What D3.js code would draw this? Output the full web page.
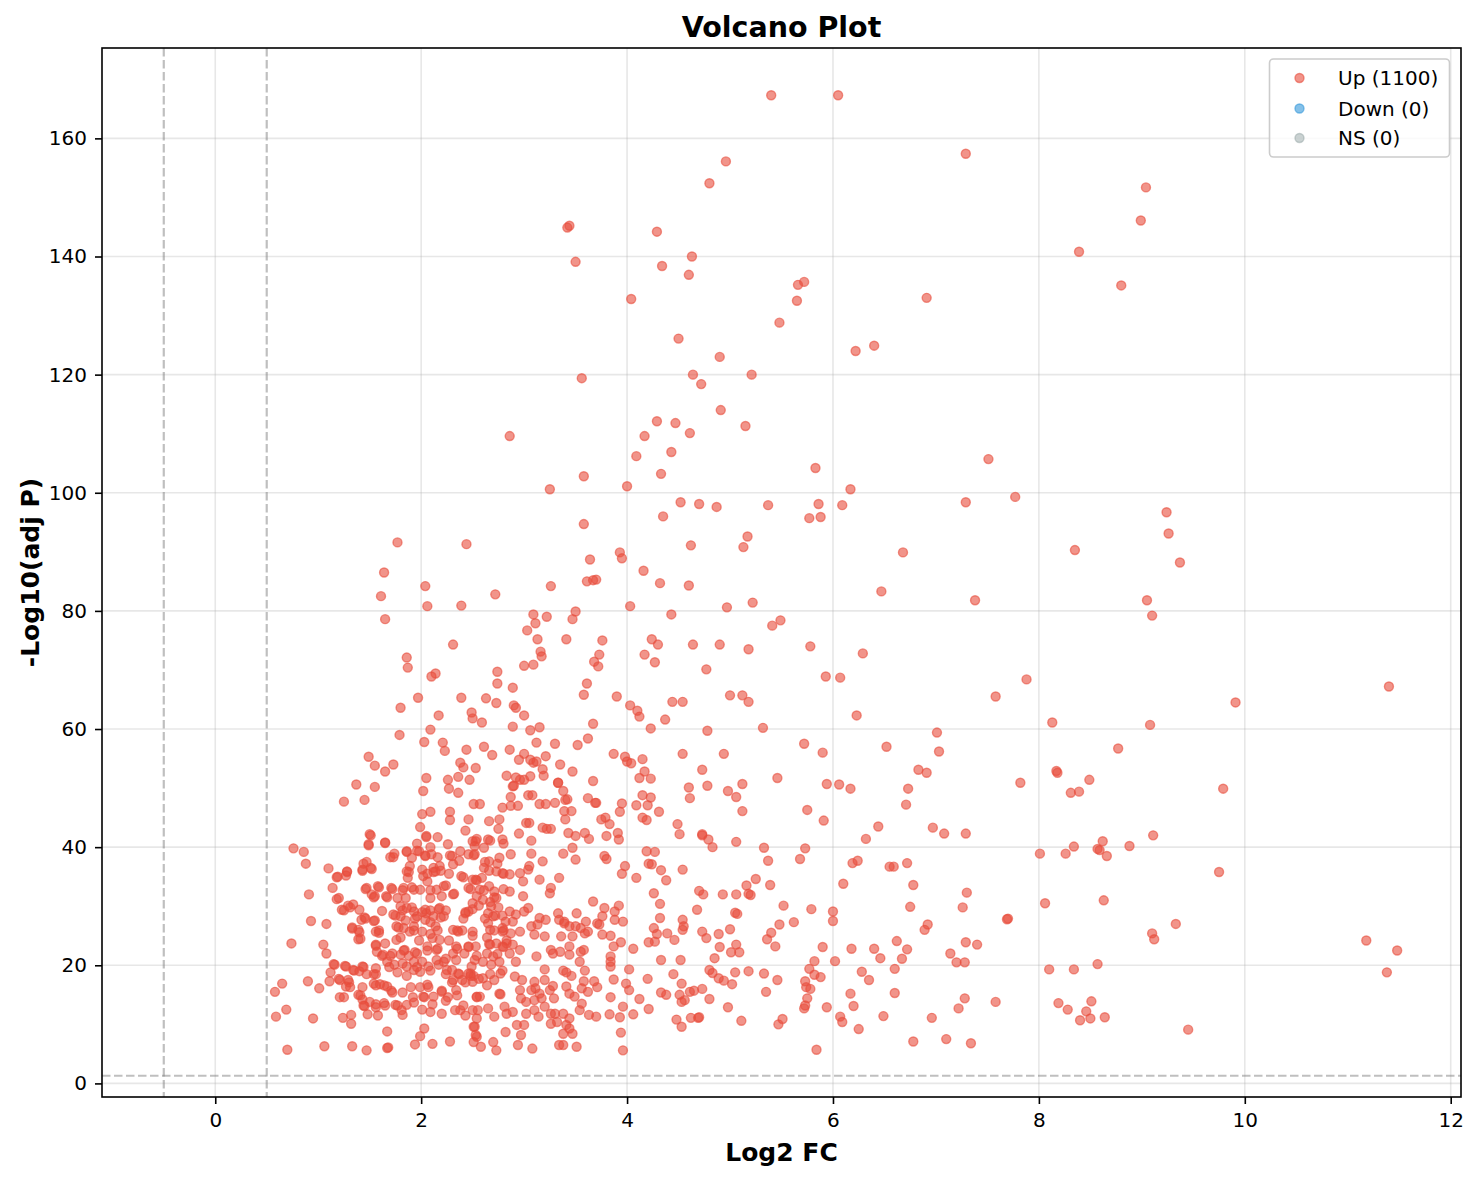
<!DOCTYPE html>
<html><head><meta charset="utf-8">
<script src="https://cdn.jsdelivr.net/npm/d3@7"></script>
<style>
body{margin:0;background:#fff;}
text{font-family:"DejaVu Sans",sans-serif;fill:#000;}
</style></head><body>
<svg id="chart" width="1481" height="1180"></svg>
<script>
// ---- data: [log2 FC, -log10(adj P)] ----
const upPoints = [
[5.40,167.3],[6.05,167.3],[7.29,157.4],[4.96,156.1],[4.80,152.4],[9.04,151.7],[8.99,146.1],[3.44,145.2],[3.42,144.9],[4.29,144.2],[8.39,140.8],[4.63,140.0],[3.50,139.1],[4.34,138.4],[4.60,136.9],[5.72,135.7],[5.66,135.2],[8.80,135.1],[4.04,132.8],[6.91,133.0],[5.65,132.5],[5.48,128.8],[4.50,126.1],[6.40,124.9],[6.22,124.0],[4.90,123.0],[4.64,120.0],[5.21,120.0],[3.56,119.4],[4.72,118.4],[4.91,114.0],[4.29,112.1],[4.47,111.8],[5.15,111.3],[2.86,109.6],[4.17,109.6],[4.61,110.1],[4.43,106.9],[4.09,106.2],[7.51,105.7],[5.83,104.2],[3.58,102.8],[4.33,103.2],[4.00,101.1],[3.25,100.6],[6.17,100.6],[7.77,99.3],[4.52,98.4],[7.29,98.4],[5.37,97.9],[4.70,98.1],[4.87,97.6],[5.86,98.1],[6.09,97.9],[9.24,96.7],[5.77,95.7],[5.88,95.9],[4.35,96.0],[3.58,94.7],[9.26,93.1],[5.17,92.6],[1.77,91.6],[2.44,91.3],[4.62,91.1],[5.13,90.8],[6.68,89.9],[8.35,90.3],[3.93,89.9],[3.64,88.7],[3.95,88.9],[9.37,88.2],
[1.64,86.5],[4.16,86.8],[3.70,85.3],[3.67,85.2],[3.61,85.0],[3.26,84.2],[2.04,84.2],[4.60,84.3],[4.32,84.7],[6.47,83.3],[2.72,82.8],[1.61,82.5],[9.05,81.8],[7.38,81.8],[5.22,81.4],[2.39,80.9],[2.06,80.8],[4.03,80.8],[4.97,80.6],[3.50,79.9],[3.09,79.4],[4.43,79.4],[9.10,79.2],[1.65,78.6],[5.49,78.4],[3.47,78.6],[5.41,77.5],[3.11,77.9],[3.03,76.7],[3.76,75.0],[4.24,75.2],[3.41,75.2],[3.13,75.2],[4.90,74.3],[2.31,74.3],[4.64,74.3],[4.30,74.3],[5.78,74.0],[5.18,73.5],[3.16,73.1],[3.73,72.6],[4.17,72.6],[6.29,72.8],[3.17,72.3],[1.86,72.1],[3.68,71.4],[3.09,70.9],[4.27,71.3],[3.00,70.7],[1.87,70.4],[3.72,70.6],[4.77,70.1],[2.74,69.7],[2.14,69.4],[2.10,68.9],[5.93,68.9],[7.88,68.4],[6.07,68.7],[2.74,67.7],[3.61,67.7],[2.89,67.0],[11.40,67.2],[5.00,65.7],[1.97,65.3],[2.39,65.3],[2.63,65.2],[3.90,65.5],[3.58,65.8],[5.12,65.7],[7.58,65.5],[4.44,64.6],[4.54,64.6],[5.18,64.6],[9.91,64.5],[4.03,64.0],[1.80,63.6],[4.10,63.1],[2.49,62.8],[2.50,61.8],[4.12,62.1],[6.23,62.3],[3.00,62.3],[2.17,62.3],[4.37,61.6],[2.59,61.1],[3.67,60.9],[8.13,61.1],[9.08,60.7],[3.15,60.3],[2.89,60.4],[4.23,60.1],[5.32,60.2],[2.09,59.9],[4.78,59.7],[1.79,59.0],[7.01,59.4],[3.62,58.4],[3.30,57.5],[5.72,57.5],[3.12,57.7],[3.52,57.3],[6.52,57.0],[2.61,57.0],[8.77,56.7],[2.23,56.3],[2.21,57.7],[2.44,56.5],[3.87,55.8],[3.98,55.3],[5.90,56.0],[7.03,56.2],[4.94,55.8],[4.54,55.8],[1.49,55.3],[2.69,55.6],[2.95,54.8],[4.00,54.5],[3.09,54.3],[1.55,53.8],[3.12,54.5],[3.35,54.0],[2.53,53.4],[1.73,54.0],[4.73,53.1],[6.83,53.1],[8.17,52.9],[1.65,52.8],[4.17,52.8],[6.91,52.6],[8.18,52.6],[2.36,51.9],[5.46,51.7],[2.05,51.7],[3.19,52.1],[2.83,52.1],[2.96,51.4],[4.23,51.6],[8.49,51.4],[3.67,51.2],[5.94,50.7],[6.06,50.6],[7.82,50.9],[9.79,49.9],[6.17,49.9],[1.37,50.6],[5.12,50.7],[4.60,50.1],[6.73,49.9],[8.31,49.2],[8.39,49.4],[4.98,49.5],[2.02,49.5],[5.06,48.5],[2.87,48.5],[1.45,48.0],[1.25,47.7],[3.70,47.5],[3.40,48.0],[6.71,47.2],[5.75,46.3],[5.12,46.1],[3.46,46.1],
[2.73,64.4],[2.90,64.0],[2.92,63.6],[3.06,59.8],[2.86,56.5],[3.00,55.8],[3.22,79.0],[4.04,54.2],[4.15,54.9],[4.12,51.7],[3.47,52.8],[3.06,54.8],[3.18,53.2],[2.92,51.8],[3.00,51.4],[3.06,52.0],[2.89,50.3],[3.33,50.9],[3.21,55.4],[2.03,57.8],[2.26,51.4],[2.38,54.3],[2.41,53.5],[2.47,51.4],[1.55,50.2],
[2.01,45.6],[2.09,46.0],[2.28,46.0],[2.28,44.6],[2.36,49.2],[2.27,49.9],[1.99,43.4],[2.05,41.9],[1.50,42.2],[1.49,40.5],[1.65,40.8],[0.76,39.8],[0.86,39.2],[0.88,37.2],[1.10,36.4],[1.19,35.0],[1.28,35.9],[1.27,35.2],[1.43,36.2],[1.47,37.5],[1.51,36.5],[1.70,38.3],[1.74,38.9],[1.86,39.3],[1.96,40.6],[1.14,33.1],[1.20,31.4],[0.91,32.0],[1.23,29.4],[1.29,30.1],[1.34,30.3],[1.40,29.4],[1.47,33.1],[1.52,32.0],[1.55,31.7],[1.58,33.4],[1.66,31.7],[1.71,33.1],[1.62,29.2],[0.93,27.5],[1.08,27.0],[1.33,26.4],[1.39,26.0],[1.42,27.7],[1.45,28.1],[1.54,27.5],[1.39,24.4],[1.56,25.7],[1.59,25.5],[0.74,23.7],[1.05,23.5],[1.08,22.0],[1.56,23.5],[1.57,22.3],[1.65,23.7],[1.63,21.8],[1.16,20.1],[1.12,18.8],[1.26,19.9],[1.34,19.2],[1.40,19.0],[1.43,19.8],[1.47,18.5],[1.56,19.5],[1.56,18.5],[1.21,17.5],[1.29,17.5],[1.27,16.4],[1.11,17.3],[1.01,16.1],[0.90,17.3],[0.65,16.9],[0.58,15.5],[1.21,14.6],[1.39,15.0],[1.43,14.2],[1.45,13.1],[1.50,13.8],[1.56,12.9],[1.48,11.7],[1.58,11.5],[1.24,11.1],[1.32,11.6],[1.32,10.1],[1.64,13.6],[1.54,16.9],[1.60,16.8],[1.67,16.4],[1.71,15.7],[1.75,13.3],[1.81,12.4],[1.82,11.6],[1.86,13.3],[1.92,14.6],[2.01,12.5],[2.09,12.1],[2.20,11.8],[2.02,14.7],[2.12,14.7],[2.20,15.5],[2.26,14.6],[2.06,16.7],[1.99,18.9],[2.07,19.8],[2.17,20.1],[2.25,19.2],[2.30,19.2],[0.69,12.5],[0.59,11.3],[0.95,11.0],[0.70,5.7],[1.06,6.3],[1.33,6.3],[1.47,5.6],[1.67,6.0],[1.68,6.1],[1.67,8.8],[2.03,9.3],[1.99,8.0],[1.94,6.6],[2.11,6.7],[2.28,7.1],[2.38,12.4],[2.43,11.5],[2.33,12.4],
[2.04,29.4],[2.05,28.8],[1.93,29.1],[1.96,28.3],[1.86,29.7],[1.80,28.3],[1.76,26.6],[1.83,26.3],[1.89,25.7],[1.93,26.6],[2.01,25.7],[2.04,27.7],[2.12,28.3],[2.18,29.7],[2.22,28.3],[2.14,26.6],[2.11,24.6],[2.06,23.2],[2.15,22.6],[2.18,24.3],[1.76,24.3],[1.84,22.6],[1.80,21.8],[1.72,22.0],[1.67,20.6],[1.74,20.1],[1.82,20.3],[1.86,19.8],[1.93,20.6],[1.96,22.0],[1.93,19.2],[2.01,20.6],[2.15,20.9],[2.22,20.6],[2.31,22.0],[2.34,23.2],[2.34,20.9],[2.42,22.0],[2.46,23.2],[2.52,20.9],[2.49,19.8],[2.36,18.6],[2.46,18.6],[2.31,17.5],[2.40,17.5],[2.50,17.2],[2.34,15.8],[2.54,14.7],[2.50,12.4],[2.54,11.0],[2.52,9.6],[2.54,7.9],[2.31,26.0],[2.36,25.7],[2.50,25.7],[2.46,29.1],[2.43,28.8],[2.50,30.5],[2.54,31.7],[2.46,33.1],[2.50,34.5],[2.39,35.1],[2.31,37.1],[2.30,38.5],[2.38,39.3],[2.46,38.8],[2.50,41.0],[2.46,44.7],[2.51,47.3],[2.10,38.8],[2.12,36.5],[2.18,36.8],[2.14,35.9],[2.02,35.1],[2.01,36.2],[1.89,36.8],[1.86,35.9],[1.87,34.8],[1.83,33.1],[1.93,32.8],[1.99,32.8],[2.06,34.2],[2.15,32.8],[2.22,33.4],[2.31,32.0],[2.20,31.7],[2.09,31.4],[1.85,31.4],[1.77,31.4],[1.73,28.6],[1.80,30.0],[1.91,38.2],[1.98,39.3],[2.04,38.5],
[2.90,50.4],[3.33,50.9],[3.04,48.8],[3.08,48.8],[2.79,46.7],[2.87,47.0],[2.94,47.0],[2.57,47.3],[3.15,47.3],[3.21,47.3],[3.30,47.5],[3.42,48.1],[3.38,49.5],[3.62,48.3],[3.69,47.5],[3.95,47.4],[4.09,47.1],[4.20,47.1],[4.23,48.4],[4.15,48.8],[4.31,46.0],[4.61,48.3],[4.49,43.9],[4.51,42.2],[4.73,42.2],[4.15,45.0],[4.19,44.6],[3.93,46.0],[3.79,45.0],[3.75,44.7],[3.83,43.9],[3.91,42.4],[3.92,41.3],[3.80,41.9],[3.59,42.4],[3.63,41.4],[3.43,42.4],[3.50,41.9],[3.40,44.7],[3.39,46.1],[3.22,43.1],[3.26,43.1],[3.18,43.3],[3.02,44.1],[3.05,44.1],[2.95,42.3],[3.07,41.1],[2.76,44.7],[2.75,43.1],[2.66,44.4],[2.65,41.3],[2.79,41.3],[2.53,41.0],[3.07,38.9],[3.18,37.6],[3.38,38.9],[3.47,39.9],[3.50,37.9],[3.78,38.5],[3.80,38.0],[3.98,36.8],[3.95,35.5],[4.09,34.8],[4.19,39.3],[4.27,39.2],[4.24,37.1],[4.21,37.2],[4.33,36.1],[4.38,34.4],[4.54,36.2],[4.74,32.0],[4.70,32.6],[4.68,29.4],[4.26,32.2],[4.32,30.4],[4.32,28.0],[4.26,26.3],[4.29,25.3],[4.39,25.4],[4.46,24.3],[4.54,27.7],[4.55,26.6],[4.54,26.0],[4.73,25.7],[4.77,24.6],[4.27,24.0],[4.21,23.9],[4.06,22.8],[4.33,20.9],[4.52,20.9],[4.45,18.5],[4.53,16.9],[4.33,15.4],[4.38,15.0],[4.51,15.0],[4.61,15.5],[4.65,15.7],[4.73,16.0],[4.80,14.3],[4.56,14.1],[4.53,13.8],[4.20,17.7],[4.12,14.3],[4.21,12.6],[4.02,15.8],[3.99,16.9],[4.02,19.3],[3.87,17.6],[3.84,14.6],[3.96,13.0],[4.06,11.7],[3.93,11.2],[3.83,11.7],[3.94,8.6],[3.96,5.6],[4.48,10.8],[4.53,9.6],[4.62,11.1],[4.69,11.1],[3.84,21.5],[3.84,20.6],[3.84,19.8],[3.94,23.9],[3.87,23.2],[3.84,25.0],[3.76,25.2],[3.73,26.9],[3.76,28.3],[3.78,29.7],[3.88,29.1],[3.92,30.1],[3.96,27.4],[3.88,27.7],[3.67,30.8],[3.71,27.1],[3.60,27.4],[3.55,26.3],[3.59,25.4],[3.50,26.6],[3.44,26.6],[3.39,27.4],[3.34,27.7],[3.33,28.8],[3.21,27.7],[3.15,28.0],[3.07,26.6],[3.13,26.9],[3.10,25.2],[3.04,29.7],[3.00,29.1],[2.92,28.6],[2.86,29.1],[2.89,27.4],[2.96,25.7],[2.87,25.4],[2.82,27.4],[2.79,26.3],[2.79,25.7],[2.99,31.7],[2.86,32.5],[2.71,32.5],[2.73,31.4],[2.66,33.4],[2.57,32.8],[2.60,31.1],[2.53,34.5],[2.68,30.0],[2.65,28.8],[2.70,28.3],[2.65,27.1],[2.67,26.0],[2.79,28.4],[3.26,33.1],[3.25,32.2],[3.34,34.8],[3.15,34.5],[3.04,36.2],[3.05,36.8],[2.96,35.6],[2.86,35.4],[2.79,35.6],[2.73,35.9],[2.61,36.5],[2.66,37.6],[2.59,34.8],[2.52,40.2],[2.61,39.9],[2.52,38.8],[2.76,38.2],[2.87,38.8],[2.99,34.2],[3.51,28.8],[3.39,27.1],[2.73,23.7],[2.67,23.5],[2.64,22.0],[2.79,23.2],[2.83,23.7],[2.89,23.5],[2.96,22.6],[2.86,22.0],[2.92,20.6],[2.76,20.6],[2.70,21.5],[2.68,20.1],[2.60,20.6],[2.53,23.2],[2.48,18.6],[2.60,17.8],[2.71,17.5],[2.77,18.6],[2.51,18.2],[2.91,18.1],[3.12,21.5],[3.26,22.6],[3.28,22.0],[3.35,22.3],[3.44,23.2],[3.55,22.3],[3.58,22.6],[3.44,21.8],[3.54,20.6],[3.62,25.7],[3.20,19.3],[3.38,19.1],[3.41,18.8],[3.46,18.2],[3.59,19.1],[3.58,17.3],[3.68,17.3],[3.71,16.3],[3.47,24.9],[3.36,24.9],[3.20,24.9],[2.98,17.5],[3.10,17.2],[3.20,17.5],[3.28,16.5],[3.41,16.4],[3.25,15.8],[3.11,16.1],[3.07,15.8],[2.96,15.8],[2.97,14.4],[3.02,13.8],[3.15,15.2],[3.17,14.4],[3.20,13.0],[3.30,11.8],[3.32,10.4],[3.38,11.8],[3.41,9.9],[3.44,9.3],[3.47,8.4],[3.38,8.4],[3.34,6.5],[3.38,6.5],[3.51,6.2],[3.14,11.3],[3.10,12.4],[3.02,11.8],[3.00,9.9],[2.97,8.2],[2.93,9.9],[2.89,12.1],[2.83,11.8],[2.81,13.0],[2.76,15.2],[2.71,11.3],[2.65,12.7],[2.57,14.7],[2.55,12.4],[2.51,9.6],[2.53,8.2],[2.51,7.0],[2.58,6.2],[2.70,7.0],[2.73,5.6],[2.82,8.7],[2.94,6.5],[3.08,5.9],[3.26,11.8],[3.44,15.2],[3.49,14.7],[3.56,16.1],[3.62,15.5],[3.63,11.6],[3.70,11.3],[3.56,13.5],[3.54,12.4],[3.44,11.0],[3.29,14.4],[3.26,10.1],[3.10,14.1],
[4.78,50.4],[5.91,44.5],[6.44,43.5],[6.32,41.4],[6.97,43.3],[7.08,42.3],[7.29,42.3],[4.73,42.0],[4.79,41.3],[4.83,40.0],[5.06,40.9],[5.33,39.9],[5.73,39.8],[5.37,37.7],[5.68,38.0],[6.19,37.3],[6.24,37.7],[6.55,36.7],[6.59,36.7],[6.72,37.3],[6.10,33.8],[6.78,33.6],[5.25,34.6],[5.16,33.5],[5.39,33.6],[4.93,32.0],[5.06,32.0],[5.18,32.1],[5.20,31.9],[7.30,32.3],[5.52,30.1],[5.79,29.5],[6.00,29.1],[6.00,27.5],[6.75,29.9],[7.26,29.8],[5.05,28.9],[5.07,28.7],[5.48,26.9],[5.62,27.3],[6.92,26.9],[6.89,26.0],[4.89,25.3],[5.00,26.1],[5.40,25.5],[5.36,24.4],[5.44,23.2],[4.90,23.1],[5.06,23.5],[5.01,22.2],[5.09,22.2],[4.85,21.2],[5.90,23.1],[6.18,22.8],[6.40,22.8],[6.46,21.2],[6.62,24.1],[6.72,22.7],[6.67,21.1],[7.29,23.9],[7.40,23.5],[7.14,22.0],[7.20,20.5],[7.28,20.5],[6.02,20.7],[5.82,20.7],[5.77,19.4],[5.82,18.4],[5.88,18.0],[5.73,17.3],[5.74,16.3],[5.78,16.0],[5.75,14.4],[5.73,13.2],[5.72,12.7],[5.94,12.9],[4.80,19.2],[4.83,18.7],[4.89,17.8],[4.94,17.4],[5.02,16.8],[5.05,18.8],[5.18,19.0],[5.33,18.6],[5.46,17.5],[5.35,15.5],[4.98,12.9],[4.70,11.2],[5.11,10.6],[5.47,10.0],[5.51,10.9],[5.84,5.7],[6.07,11.3],[6.09,10.4],[6.25,9.2],[6.20,13.1],[6.17,15.2],[6.28,18.9],[6.35,17.5],[6.49,11.4],[6.60,19.4],[6.60,15.3],[6.78,7.1],[6.96,11.1],[7.10,7.5],[7.34,6.8],[7.22,12.7],[7.28,14.4],[7.58,13.8],
[9.11,42.0],[8.62,41.0],[8.88,40.2],[8.34,40.1],[8.57,39.7],[8.59,39.5],[8.66,38.5],[8.01,38.9],[8.26,38.9],[9.75,35.8],[8.06,30.5],[8.63,31.0],[7.69,27.8],[7.70,27.9],[9.33,27.0],[9.10,25.4],[9.12,24.4],[11.18,24.2],[11.48,22.5],[11.38,18.8],[8.10,19.3],[8.34,19.3],[8.57,20.2],[8.19,13.6],[8.28,12.5],[8.51,13.9],[8.46,12.2],[8.40,10.7],[8.50,11.0],[8.64,11.2],[9.45,9.1],
[1.51,42.0],[1.49,40.3],[1.65,40.7],[2.05,41.7],[2.16,41.7],[2.26,40.5],[2.09,40.0],[2.43,42.8],[2.54,41.4],[2.67,41.1],[2.80,40.6],[1.86,39.2],[1.73,38.3],[1.96,39.4],[2.04,38.6],[2.16,38.3],[2.28,38.6],[2.37,37.7],[2.51,38.6],[2.62,37.5],[2.74,37.2],[1.44,37.2],[1.28,35.8],[1.18,34.9],[1.43,36.0],[1.52,36.3],[1.88,35.8],[2.06,35.5],[2.12,35.8],[2.19,36.0],[2.27,35.5],[2.41,34.9],[2.54,34.4],[2.66,36.0],[2.80,35.5],[1.18,31.2],[1.46,32.9],[1.59,33.2],[1.72,32.9],[1.82,32.7],[1.91,33.2],[2.09,32.7],[2.24,33.5],[2.32,32.1],[2.48,32.9],[2.61,32.7],[2.71,31.5],[2.80,32.9],[1.67,31.5],[1.54,31.5],[1.25,29.3],[1.31,29.8],[1.75,28.4],[1.82,29.3],[1.91,29.8],[2.01,29.0],[2.09,29.3],[2.17,29.5],[2.24,29.3],[2.43,29.0],[2.50,29.5],[2.56,30.1],[2.67,30.7],[2.75,29.8],[1.46,27.9],[1.55,27.6],[1.85,27.6],[1.94,27.9],[2.09,27.3],[2.19,28.1],[2.41,27.9],[2.62,27.9],[2.72,28.4],[1.33,26.2],[1.40,25.6],[1.41,24.5],[1.59,25.9],[1.78,26.4],[1.80,24.7],[1.93,25.9],[1.98,24.2],[2.09,25.3],[2.16,25.9],[2.27,24.2],[2.35,25.9],[2.40,25.9],[2.50,25.0],[2.64,24.7],[2.71,25.9],[2.80,25.9],[2.83,24.2],[1.56,23.3],[1.62,21.6],[1.70,21.6],[1.83,22.5],[1.88,21.6],[1.94,22.2],[2.06,22.5],[2.16,22.8],[2.24,21.1],[2.35,22.8],[2.46,23.1],[2.54,21.6],[2.66,23.6],[2.74,21.9],[2.80,23.1],[1.15,20.2],[1.27,19.8],[1.35,19.1],[1.44,19.7],[1.54,18.5],[1.69,19.7],[1.77,18.8],[1.86,18.2],[1.96,19.7],[2.09,19.1],[2.24,18.5],[2.37,18.5],[2.48,18.2],[2.56,17.7],[2.67,18.5],[2.79,19.1],[1.20,17.7],[1.30,17.1],[1.31,16.3],[1.43,16.3],[1.56,16.6],[1.64,16.6],[1.72,15.4],[1.82,15.4],[1.90,16.3],[1.99,16.3],[2.07,16.3],[2.20,15.7],[2.30,17.1],[2.43,17.1],[2.64,16.6],[2.77,15.1],[1.25,14.6],[1.41,14.9],[1.44,13.2],[1.56,13.4],[1.65,13.2],[1.77,13.2],[1.93,13.7],[2.03,14.6],[2.11,13.4],[2.24,14.0],[2.35,14.9],[2.41,13.2],[2.54,14.6]
];
const downPoints = [];
const nsPoints = [];
const upCount = 1100, downCount = 0, nsCount = 0;
const legendLabels = ["Up (" + upCount + ")", "Down (" + downCount + ")", "NS (" + nsCount + ")"];
const xTicks = [0, 2, 4, 6, 8, 10, 12];
const yTicks = [0, 20, 40, 60, 80, 100, 120, 140, 160];
const fcCutoffs = [-0.5, 0.5];
const pCutoff = 1.3;
const titleText = "Volcano Plot";
const xLabelText = "Log2 FC";
const yLabelText = "-Log10(adj P)";

// ---- layout ----
const W = 1481, H = 1180;
const L = 102, R = 1461, T = 48, B = 1097;
const colors = {up: "#e74c3c", down: "#3498db", ns: "#95a5a6"};
const MR = 4.5, MSW = 1.4;

const svg = d3.select("#chart");
const x = d3.scaleLinear().domain([-1.1, 12.1]).range([L, R]);
const y = d3.scaleLinear().domain([-2.3, 175.3]).range([B, T]);

// grid
const grid = svg.append("g");
grid.selectAll("line.gx").data(xTicks).join("line")
  .attr("x1", d => x(d)).attr("x2", d => x(d)).attr("y1", T).attr("y2", B)
  .attr("stroke", "#b0b0b0").attr("stroke-opacity", 0.3).attr("stroke-width", 1.6);
grid.selectAll("line.gy").data(yTicks).join("line")
  .attr("y1", d => y(d)).attr("y2", d => y(d)).attr("x1", L).attr("x2", R)
  .attr("stroke", "#b0b0b0").attr("stroke-opacity", 0.3).attr("stroke-width", 1.6);

svg.append("clipPath").attr("id", "clip").append("rect")
  .attr("x", L).attr("y", T).attr("width", R - L).attr("height", B - T);

const plot = svg.append("g").attr("clip-path", "url(#clip)");

function drawSeries(data, color, alpha) {
  plot.append("g").selectAll("circle").data(data).join("circle")
    .attr("cx", d => x(d[0])).attr("cy", d => y(d[1])).attr("r", MR)
    .attr("fill", color).attr("fill-opacity", alpha)
    .attr("stroke", color).attr("stroke-opacity", alpha).attr("stroke-width", MSW);
}
drawSeries(nsPoints, colors.ns, 0.5);
drawSeries(downPoints, colors.down, 0.6);
drawSeries(upPoints, colors.up, 0.6);

// threshold lines
plot.selectAll("line.vc").data(fcCutoffs).join("line")
  .attr("x1", d => x(d)).attr("x2", d => x(d)).attr("y1", T).attr("y2", B)
  .attr("stroke", "#808080").attr("stroke-opacity", 0.5).attr("stroke-width", 2.2)
  .attr("stroke-dasharray", "8.5,3.5");
plot.append("line")
  .attr("x1", L).attr("x2", R).attr("y1", y(pCutoff)).attr("y2", y(pCutoff))
  .attr("stroke", "#808080").attr("stroke-opacity", 0.5).attr("stroke-width", 2.2)
  .attr("stroke-dasharray", "8.5,3.5");

// axes
const xAxis = svg.append("g").attr("transform", `translate(0,${B})`)
  .call(d3.axisBottom(x).tickValues(xTicks).tickSize(7).tickPadding(9).tickFormat(d3.format("d")));
const yAxis = svg.append("g").attr("transform", `translate(${L},0)`)
  .call(d3.axisLeft(y).tickValues(yTicks).tickSize(7).tickPadding(8).tickFormat(d3.format("d")));
[xAxis, yAxis].forEach(g => {
  g.select(".domain").remove();
  g.selectAll(".tick line").attr("stroke", "#000").attr("stroke-width", 1.6);
  g.selectAll(".tick text").attr("font-size", 20).attr("font-family", "DejaVu Sans").attr("fill", "#000");
});

// frame
svg.append("rect").attr("x", L).attr("y", T).attr("width", R - L).attr("height", B - T)
  .attr("fill", "none").attr("stroke", "#000").attr("stroke-width", 1.6);

// titles
svg.append("text").attr("x", (L + R) / 2).attr("y", 37).attr("text-anchor", "middle")
  .attr("font-size", 28.5).attr("font-weight", "bold").text(titleText);
svg.append("text").attr("x", (L + R) / 2).attr("y", 1161).attr("text-anchor", "middle")
  .attr("font-size", 25).attr("font-weight", "bold").text(xLabelText);
svg.append("text").attr("transform", `translate(39,${(T + B) / 2}) rotate(-90)`).attr("text-anchor", "middle")
  .attr("font-size", 25).attr("font-weight", "bold").text(yLabelText);

// legend
const legend = svg.append("g");
legend.append("rect").attr("x", 1269.5).attr("y", 59).attr("width", 180).attr("height", 98)
  .attr("rx", 4).attr("fill", "#fff").attr("fill-opacity", 0.8)
  .attr("stroke", "#cccccc").attr("stroke-width", 1.6);
const legendItems = [
  {label: legendLabels[0], color: colors.up, alpha: 0.6},
  {label: legendLabels[1], color: colors.down, alpha: 0.6},
  {label: legendLabels[2], color: colors.ns, alpha: 0.5}
];
const rowY = [78, 108.5, 138];
legendItems.forEach((it, i) => {
  legend.append("circle").attr("cx", 1299.5).attr("cy", rowY[i]).attr("r", MR)
    .attr("fill", it.color).attr("fill-opacity", it.alpha)
    .attr("stroke", it.color).attr("stroke-opacity", it.alpha).attr("stroke-width", MSW);
  legend.append("text").attr("x", 1338).attr("y", rowY[i] + 7.3)
    .attr("font-size", 20).text(it.label);
});
</script>
</body></html>
